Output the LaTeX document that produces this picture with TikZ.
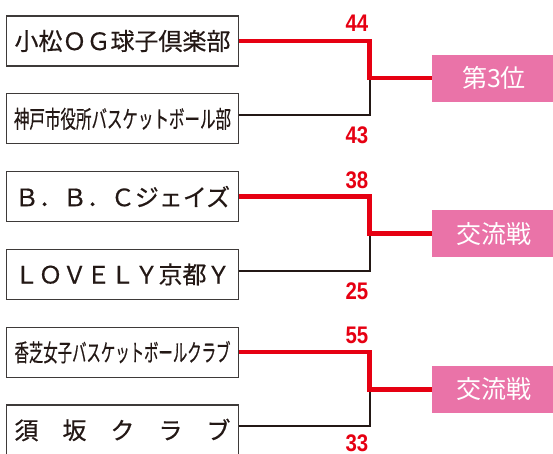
\documentclass[tikz,border=0pt]{standalone}
\usepackage{fontspec}
\usepackage{graphicx}
\newfontfamily\jpfont{Noto Sans CJK JP}
\newfontfamily\jpheavy[FakeBold=0.5]{Noto Sans CJK JP}
\newfontfamily\numfont{Liberation Sans}
\usepackage{tikz}
\usetikzlibrary{calc}
\definecolor{winred}{RGB}{230,0,18}
\definecolor{resultpink}{RGB}{234,115,168}
\definecolor{inkblack}{RGB}{35,24,21}
\definecolor{framegray}{RGB}{62,58,57}

\begin{document}
\begin{tikzpicture}[x=1pt,y=1pt]
    \newcommand{\rowgap}[0]{ 27.8pt }
    \newcommand{\pts}[1]{\scalebox{0.85}[1]{#1}}
    \tikzstyle{win}  = [line width=4.6pt,draw=winred]
    \tikzstyle{lose} = [line width=2pt,draw=inkblack]
    \tikzstyle{team}=[
      draw=framegray,
      line width=1.3pt,
      anchor=north,
      outer sep=0pt,
      minimum width=232pt,
      minimum height=50pt,
      inner sep=0pt,
      text=inkblack,
      font=\jpheavy\fontsize{24}{24}\selectfont
    ]
    \tikzstyle{result}=[
      fill=resultpink,
      anchor=west,
      outer sep=0pt,
      minimum width=125pt,
      minimum height=47pt,
      inner sep=0pt,
      text=white,
      font=\jpfont\fontsize{25}{25}\selectfont
    ]
    \tikzstyle{score}=[
      anchor=east,
      inner sep=0pt,
      text=winred,
      font=\numfont\bfseries\fontsize{24}{24}\selectfont
    ]

    \useasboundingbox (0,0) rectangle (553,454);
    \clip (0,0) rectangle (553,454);

    \node[team] (og) at (122.5,438) {小松ＯＧ球子倶楽部};
    \node[team] (kobe) at ([yshift=-\rowgap]og.south) {\scalebox{0.646}[1]{神戸市役所バスケットボール部}};
    \node[team] (bbc) at ([yshift=-\rowgap]kobe.south) {Ｂ．Ｂ．Ｃジェイズ};
    \node[team] (lovely) at ([yshift=-\rowgap]bbc.south) {ＬＯＶＥＬＹ京都Ｙ};
    \node[team] (kashiba) at ([yshift=-\rowgap]lovely.south) {\scalebox{0.6}[1]{香芝女子バスケットボールクラブ}};
    \node[team] (suzaka) at ([yshift=-\rowgap]kashiba.south) {須　坂　ク　ラ　ブ};

    \coordinate (fork a) at ($(og.east)!0.5!([yshift=3.5pt]kobe.east) + (131,0)$);
    \coordinate (fork b) at ($(bbc.east)!0.5!([yshift=3.5pt]lovely.east) + (131,0)$);
    \coordinate (fork c) at ($(kashiba.east)!0.5!([yshift=3.5pt]suzaka.east) + (131,0)$);

    \node[result] (third) at ([xshift=62pt]fork a) {第3位};
    \node[result] (exchange b) at ([xshift=62pt]fork b) {交流戦};
    \node[result] (exchange c) at ([xshift=62pt]fork c) {交流戦};

    \node[score] (og score) at ([xshift=-1pt,yshift=18pt]og.east -| fork a) {\pts{44}};
    \node[score] (kobe score) at ([xshift=-1pt,yshift=-16.5pt]kobe.east -| fork a) {\pts{43}};
    \node[score] (bbc score) at ([xshift=-1pt,yshift=16.5pt]bbc.east -| fork b) {\pts{38}};
    \node[score] (lovely score) at ([xshift=-1pt,yshift=-16.5pt]lovely.east -| fork b) {\pts{25}};
    \node[score] (kashiba score) at ([xshift=-1pt,yshift=16.5pt]kashiba.east -| fork c) {\pts{55}};
    \node[score] (suzaka score) at ([xshift=-1pt,yshift=-13.5pt]suzaka.east -| fork c) {\pts{33}};

    \draw[lose] ([yshift=3.5pt]kobe.east) -| (fork a);
    \draw[lose] ([yshift=3.5pt]lovely.east) -| (fork b);
    \draw[lose] ([yshift=3.5pt]suzaka.east) -| (fork c);
    \draw[win] (og.east) -| (fork a) -- (third.west);
    \draw[win] (bbc.east) -| (fork b) -- (exchange b.west);
    \draw[win] (kashiba.east) -| (fork c) -- (exchange c.west);
\end{tikzpicture}
\end{document}
